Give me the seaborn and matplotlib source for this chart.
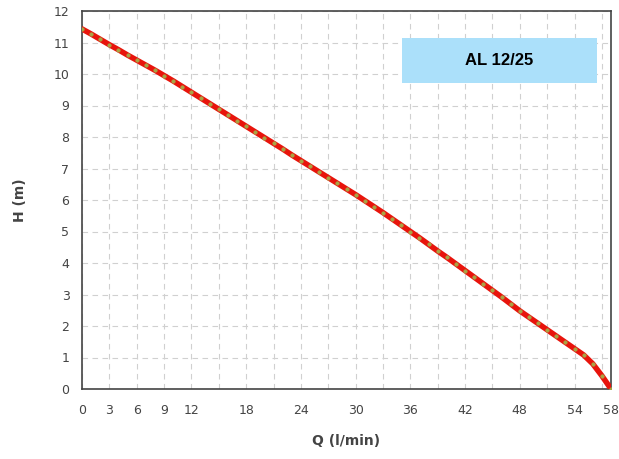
import matplotlib
matplotlib.use("Agg")
import matplotlib.pyplot as plt
from matplotlib.patches import Rectangle
import seaborn as sns
import pandas as pd

flow_q = list(range(0, 59))
head_h = [11.43, 11.27, 11.10, 10.93, 10.77, 10.60, 10.44, 10.28, 10.12, 9.95,
          9.78, 9.60, 9.42, 9.24, 9.06, 8.88, 8.70, 8.52, 8.34, 8.16,
          7.98, 7.80, 7.62, 7.43, 7.25, 7.07, 6.89, 6.71, 6.53, 6.35,
          6.17, 5.98, 5.79, 5.60, 5.40, 5.20, 5.00, 4.80, 4.59, 4.38,
          4.18, 3.97, 3.76, 3.55, 3.34, 3.13, 2.92, 2.70, 2.48, 2.28,
          2.08, 1.88, 1.68, 1.48, 1.28, 1.08, 0.80, 0.42, 0.00]
x_ticks = list(range(0, 58, 3)) + [58]
x_labels = ["0", "3", "6", "9", "12", "", "18", "", "24", "", "30", "", "36",
            "", "42", "", "48", "", "54", "", "58"]
y_ticks = list(range(0, 13))
title_text = "AL 12/25"

df = pd.DataFrame({"Q": flow_q, "H": head_h})

sns.set_theme(style="white")
plt.rcParams['font.family'] = ['DejaVu Sans']

fig = plt.figure(figsize=(6.19, 4.59), dpi=100)
ax = fig.add_axes([82/619, 1-389/459, (611-82)/619, (389-11)/459])

sns.lineplot(data=df, x="Q", y="H", ax=ax, color="#e8140c", linewidth=4.0,
             marker="o", markersize=2.4, markerfacecolor="#a9a445",
             markeredgecolor="#a9a445", markeredgewidth=0.6, zorder=3)

ax.set_xlim(0, 58)
ax.set_ylim(0, 12)
ax.set_xticks(x_ticks)
ax.set_xticklabels(x_labels)
ax.set_yticks(y_ticks)
ax.set_yticklabels([str(v) for v in y_ticks])
ax.grid(True, color="#d0d0d0", linestyle=(0, (5, 4)), linewidth=0.8)
ax.tick_params(axis="both", direction="out", length=5, width=1.2,
               color="#444444", labelsize=9, labelcolor="#444444")
ax.tick_params(axis="x", pad=6)
ax.tick_params(axis="y", pad=4)
for s in ax.spines.values():
    s.set_color("#444444")
    s.set_linewidth(1.2)

ax.set_xlabel("Q (l/min)", fontsize=10, fontweight="bold", color="#444444", labelpad=12)
ax.set_ylabel("H (m)", fontsize=10, fontweight="bold", color="#444444", labelpad=19)

fig.patches.append(Rectangle((402/619, 1-83/459), (597-402)/619, 45/459,
                             transform=fig.transFigure, facecolor="#abe0fa",
                             edgecolor="none", zorder=4, figure=fig))
fig.text((402+597)/2/619, 1-60.5/459, title_text,
         fontsize=12, fontweight="bold", family=["Liberation Sans", "DejaVu Sans"],
         ha="center", va="center", color="black", zorder=5)

fig.savefig("out.png", dpi=100)
